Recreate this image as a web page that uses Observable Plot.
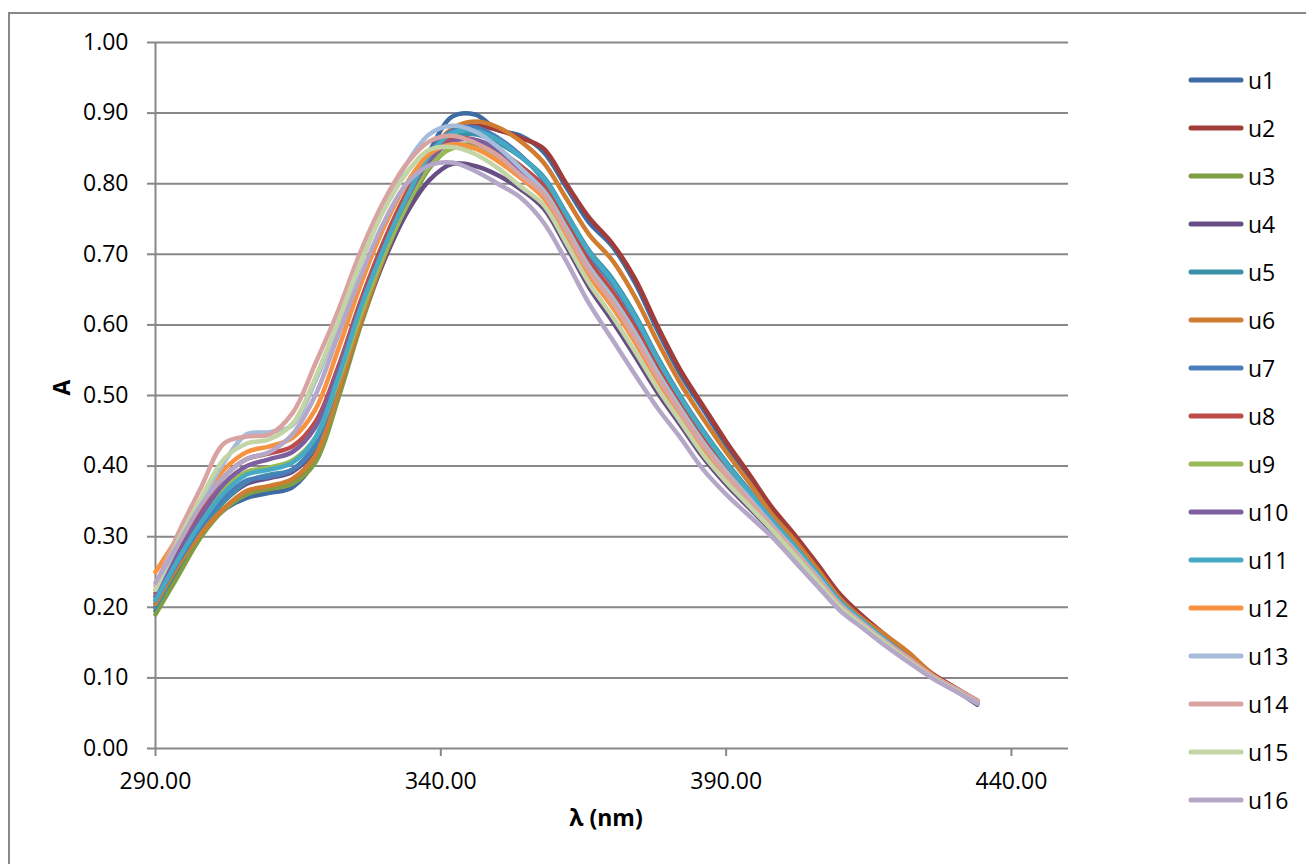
<!DOCTYPE html>
<html>
<head>
<meta charset="utf-8">
<script src="https://cdn.jsdelivr.net/npm/d3@7"></script>
<script src="https://cdn.jsdelivr.net/npm/@observablehq/plot@0.6"></script>
<style>
  html, body { margin: 0; padding: 0; background: #fff; overflow: hidden; }
  #wrap { position: relative; width: 1306px; height: 864px; font-family: "Open Sans", sans-serif; }
  #border { position: absolute; left: 8px; top: 12px; width: 1320px; height: 880px; border: 2px solid #888; box-sizing: border-box; }
  #chart { position: absolute; left: 0; top: 0; }
  #legend { position: absolute; left: 1188px; top: 56px; }
  .item { height: 48px; display: flex; align-items: center; font-size: 23px; color: #000; }
  .item svg { margin-right: 4px; }
</style>
</head>
<body>
<div id="wrap"><div id="border"></div><div id="chart"></div><div id="legend"></div></div>
<script>
const wavelengths = [290,294,298,302,306,310,314,318,322,326,330,334,338,342,346,350,354,358,362,366,370,374,378,382,386,390,394,398,402,406,410,414,418,422,426,430,434];

const u1  = [0.195,0.250,0.305,0.338,0.355,0.362,0.370,0.410,0.520,0.620,0.700,0.775,0.845,0.895,0.898,0.876,0.868,0.845,0.795,0.745,0.712,0.660,0.592,0.530,0.480,0.430,0.385,0.338,0.300,0.258,0.215,0.185,0.158,0.132,0.105,0.085,0.066];
const u2  = [0.200,0.255,0.305,0.340,0.362,0.368,0.378,0.418,0.515,0.612,0.695,0.768,0.832,0.872,0.882,0.876,0.865,0.850,0.800,0.752,0.716,0.666,0.598,0.536,0.485,0.435,0.389,0.342,0.303,0.261,0.218,0.187,0.160,0.134,0.107,0.087,0.068];
const u3  = [0.190,0.245,0.300,0.338,0.360,0.368,0.375,0.405,0.495,0.600,0.690,0.762,0.822,0.852,0.855,0.845,0.825,0.795,0.743,0.688,0.646,0.595,0.537,0.485,0.438,0.395,0.358,0.319,0.283,0.244,0.205,0.178,0.152,0.127,0.103,0.084,0.063];
const u4  = [0.205,0.260,0.310,0.350,0.375,0.383,0.392,0.425,0.505,0.605,0.690,0.758,0.805,0.828,0.825,0.812,0.792,0.765,0.711,0.653,0.606,0.556,0.504,0.458,0.412,0.374,0.341,0.308,0.272,0.236,0.199,0.173,0.148,0.124,0.101,0.083,0.062];
const u5  = [0.200,0.258,0.310,0.350,0.378,0.388,0.395,0.428,0.512,0.612,0.697,0.770,0.832,0.865,0.870,0.858,0.838,0.810,0.758,0.705,0.666,0.615,0.554,0.499,0.450,0.406,0.366,0.325,0.288,0.248,0.208,0.180,0.153,0.129,0.103,0.084,0.065];
const u6  = [0.205,0.260,0.305,0.340,0.365,0.372,0.382,0.415,0.505,0.605,0.695,0.772,0.842,0.878,0.888,0.880,0.860,0.830,0.779,0.728,0.692,0.640,0.576,0.517,0.467,0.420,0.377,0.332,0.295,0.254,0.212,0.183,0.160,0.136,0.106,0.085,0.066];
const u7  = [0.210,0.265,0.315,0.355,0.380,0.385,0.395,0.432,0.520,0.620,0.705,0.780,0.843,0.875,0.880,0.865,0.840,0.805,0.753,0.699,0.659,0.608,0.548,0.494,0.446,0.402,0.363,0.323,0.286,0.247,0.207,0.179,0.153,0.128,0.103,0.084,0.065];
const u8  = [0.220,0.280,0.340,0.385,0.410,0.418,0.428,0.462,0.540,0.635,0.718,0.787,0.840,0.864,0.862,0.848,0.825,0.797,0.746,0.690,0.648,0.597,0.540,0.487,0.440,0.397,0.359,0.320,0.284,0.245,0.206,0.178,0.152,0.128,0.103,0.084,0.065];
const u9  = [0.215,0.270,0.325,0.368,0.392,0.398,0.408,0.440,0.520,0.615,0.698,0.768,0.825,0.850,0.850,0.835,0.815,0.790,0.737,0.682,0.639,0.589,0.532,0.481,0.433,0.392,0.355,0.317,0.281,0.243,0.204,0.177,0.151,0.127,0.102,0.083,0.065];
const u10 = [0.215,0.275,0.330,0.375,0.400,0.410,0.420,0.455,0.535,0.628,0.710,0.778,0.833,0.860,0.862,0.848,0.818,0.785,0.732,0.676,0.633,0.582,0.526,0.476,0.429,0.388,0.352,0.315,0.279,0.241,0.203,0.176,0.150,0.126,0.102,0.083,0.065];
const u11 = [0.210,0.268,0.320,0.362,0.388,0.395,0.405,0.440,0.525,0.625,0.708,0.780,0.840,0.872,0.875,0.862,0.838,0.808,0.756,0.703,0.663,0.612,0.551,0.497,0.448,0.404,0.364,0.324,0.287,0.248,0.208,0.180,0.153,0.128,0.103,0.084,0.065];
const u12 = [0.250,0.300,0.350,0.395,0.420,0.428,0.440,0.480,0.565,0.658,0.738,0.800,0.842,0.856,0.850,0.832,0.808,0.780,0.727,0.670,0.626,0.576,0.521,0.472,0.425,0.385,0.349,0.313,0.277,0.240,0.202,0.175,0.150,0.126,0.102,0.083,0.066];
const u13 = [0.225,0.290,0.350,0.405,0.445,0.448,0.458,0.520,0.600,0.688,0.765,0.828,0.870,0.882,0.874,0.852,0.822,0.790,0.737,0.682,0.639,0.589,0.532,0.481,0.433,0.392,0.355,0.317,0.281,0.243,0.204,0.177,0.151,0.127,0.102,0.083,0.066];
const u14 = [0.230,0.305,0.370,0.432,0.442,0.445,0.475,0.545,0.620,0.705,0.775,0.828,0.860,0.868,0.858,0.840,0.812,0.785,0.732,0.676,0.633,0.582,0.526,0.476,0.429,0.388,0.352,0.315,0.279,0.241,0.203,0.176,0.150,0.128,0.104,0.086,0.068];
const u15 = [0.225,0.295,0.355,0.410,0.432,0.438,0.460,0.525,0.605,0.690,0.762,0.815,0.848,0.852,0.842,0.822,0.796,0.770,0.716,0.659,0.613,0.563,0.510,0.463,0.416,0.378,0.344,0.310,0.274,0.237,0.200,0.174,0.148,0.124,0.101,0.083,0.064];
const u16 = [0.235,0.290,0.345,0.385,0.410,0.420,0.445,0.500,0.585,0.670,0.745,0.800,0.826,0.830,0.818,0.800,0.780,0.745,0.690,0.630,0.580,0.530,0.482,0.440,0.395,0.360,0.330,0.300,0.265,0.230,0.195,0.170,0.145,0.122,0.100,0.082,0.064];

const seriesNames = ["u1","u2","u3","u4","u5","u6","u7","u8","u9","u10","u11","u12","u13","u14","u15","u16"];
const seriesValues = [u1,u2,u3,u4,u5,u6,u7,u8,u9,u10,u11,u12,u13,u14,u15,u16];
const seriesColors = ["#3E6BA3","#A03C3A","#7F9D45","#674F86","#3A92A8","#D07D32","#4A7EBB","#BE4B48","#98B954","#7D5FA0","#46AAC5","#F69240","#A5BCDB","#D9A3A2","#C3D5A5","#B4A7C7"];

const xTicks = [290, 340, 390, 440];
const yTicks = [0, 0.1, 0.2, 0.3, 0.4, 0.5, 0.6, 0.7, 0.8, 0.9, 1.0];
const xTitle = "λ (nm)";
const yTitle = "A";

const rows = seriesNames.flatMap((name, i) =>
  wavelengths.map((w, j) => ({series: name, wl: w, a: seriesValues[i][j]})));

const grid = "#878787";
const fontFam = "'Open Sans', sans-serif";

const chart = Plot.plot({
  width: 1306,
  height: 864,
  marginLeft: 155,
  marginRight: 238,
  marginTop: 42,
  marginBottom: 116,
  style: {fontFamily: fontFam, fontSize: "23px", color: "#000", background: "transparent", overflow: "visible"},
  x: {domain: [290, 450]},
  y: {domain: [0, 1]},
  color: {domain: seriesNames, range: seriesColors},
  marks: [
    Plot.ruleY(yTicks, {stroke: grid, strokeWidth: 2}),
    Plot.ruleX([290], {stroke: grid, strokeWidth: 2}),
    Plot.axisY({ticks: yTicks, tickFormat: d3.format(".2f"), tickSize: 8, tickPadding: 19, stroke: grid, strokeWidth: 2, fill: "#000", label: null, fontSize: 23}),
    Plot.axisX({ticks: xTicks, tickFormat: d3.format(".2f"), tickSize: 8, tickPadding: 16, stroke: grid, strokeWidth: 2, fill: "#000", label: null, fontSize: 23}),
    Plot.line(rows, {x: "wl", y: "a", z: "series", stroke: "series", strokeWidth: 4.5, curve: "catmull-rom", strokeLinejoin: "round", strokeLinecap: "round"}),
    Plot.text([yTitle], {frameAnchor: "left", text: d => d, rotate: -90, dx: -93, fontWeight: "bold", fontSize: 23, fill: "#000"}),
    Plot.text([xTitle], {frameAnchor: "bottom", text: d => d, dy: 77, dx: -6, fontWeight: "bold", fontSize: 23, fill: "#000"})
  ]
});
document.getElementById("chart").appendChild(chart);

const legend = document.getElementById("legend");
seriesNames.forEach((name, i) => {
  const item = document.createElement("div");
  item.className = "item";
  item.innerHTML = `<svg width="56" height="10"><line x1="3" y1="5" x2="53" y2="5" stroke="${seriesColors[i]}" stroke-width="5" stroke-linecap="round"/></svg><span>${name}</span>`;
  legend.appendChild(item);
});
</script>
</body>
</html>
